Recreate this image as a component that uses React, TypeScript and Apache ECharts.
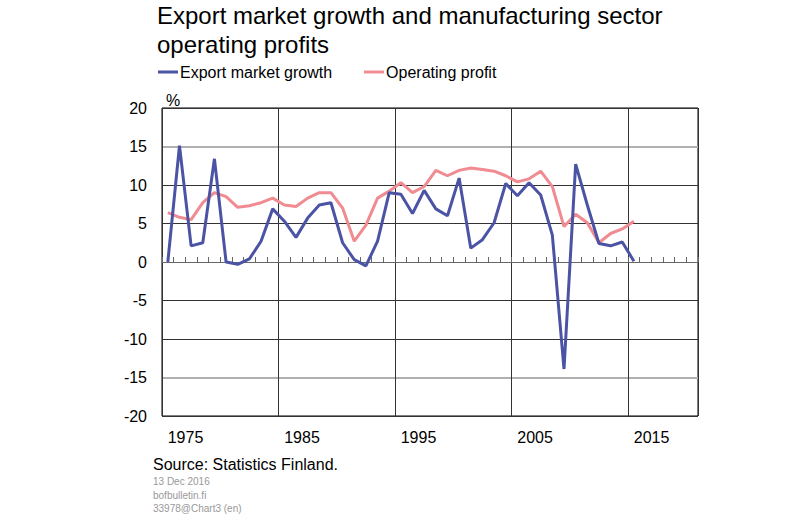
import React, { useEffect, useRef } from "react";
import * as echarts from "echarts";

const years: string[] = [];
for (let y = 1975; y <= 2020; y++) years.push(String(y));

const exportGrowth = [
  0.0, 15.1, 2.1, 2.5, 13.4, 0.0, -0.3, 0.4, 2.7, 6.9,
  5.3, 3.2, 5.7, 7.4, 7.7, 2.5, 0.3, -0.5, 2.7, 9.0,
  8.8, 6.3, 9.3, 6.9, 6.0, 10.9, 1.8, 2.9, 5.1, 10.2,
  8.6, 10.3, 8.7, 3.5, -13.9, 12.7, 7.4, 2.4, 2.1, 2.6,
  0.1,
];

const operatingProfit = [
  6.4, 5.8, 5.5, 7.7, 9.0, 8.5, 7.1, 7.3, 7.7, 8.3,
  7.4, 7.2, 8.3, 9.0, 9.0, 7.0, 2.7, 4.8, 8.3, 9.2,
  10.3, 9.0, 9.8, 11.9, 11.2, 11.9, 12.2, 12.0, 11.8, 11.2,
  10.4, 10.8, 11.8, 9.8, 4.6, 6.2, 5.1, 2.5, 3.7, 4.3,
  5.3,
];

const xTickLabels = ["1975", "1985", "1995", "2005", "2015"];

const BLUE = "#4b53a4";
const PINK = "#f08b91";
const FONT = "Liberation Sans, Arial, sans-serif";

export default function App() {
  const ref = useRef<HTMLDivElement>(null);
  useEffect(() => {
    if (!ref.current) return;
    const chart = echarts.init(ref.current, undefined, { renderer: "svg" });
    const darkSplit = ["#333", "none", "#333", "#333", "#333", "#333", "#333", "none", "#333"];
    const graySplit = ["none", "#b0b0b0", "none", "none", "none", "none", "none", "#b0b0b0", "none"];
    chart.setOption({
      animation: false,
      backgroundColor: "#fff",
      textStyle: { fontFamily: FONT },
      title: [
        {
          text: "Export market growth and manufacturing sector\noperating profits",
          left: 157,
          top: 1,
          padding: 0,
          textStyle: { fontFamily: FONT, fontSize: 24, fontWeight: "normal", color: "#000", lineHeight: 29 },
        },
        {
          text: "Source: Statistics Finland.",
          left: 153,
          top: 456,
          padding: 0,
          textStyle: { fontFamily: FONT, fontSize: 16, fontWeight: "normal", color: "#000" },
        },
        {
          text: "13 Dec 2016\nbofbulletin.fi\n33978@Chart3 (en)",
          left: 153,
          top: 475,
          padding: 0,
          textStyle: { fontFamily: FONT, fontSize: 10, fontWeight: "normal", color: "#999", lineHeight: 13.5 },
        },
      ],
      legend: {
        left: 158,
        top: 64,
        padding: 0,
        itemWidth: 20,
        itemHeight: 3,
        itemGap: 32,
        icon: "rect",
        textStyle: { fontFamily: FONT, fontSize: 16, color: "#000", padding: [0, 0, 0, -3] },
        data: ["Export market growth", "Operating profit"],
      },
      grid: {
        left: 162,
        top: 108,
        width: 536,
        height: 308,
        show: true,
        borderColor: "#000",
        borderWidth: 1,
        backgroundColor: "transparent",
      },
      xAxis: [
        {
          type: "category",
          data: years,
          boundaryGap: true,
          axisLine: { show: true, onZero: true, lineStyle: { color: "#666", width: 1 } },
          axisTick: { show: true, inside: true, length: 5, interval: 0, lineStyle: { color: "#666" } },
          axisLabel: { show: false },
          splitLine: {
            show: true,
            interval: (i: number) => i % 10 === 0,
            lineStyle: { color: "#333", width: 1 },
          },
        },
        {
          type: "category",
          data: years,
          position: "bottom",
          boundaryGap: true,
          axisLine: { show: false, onZero: false },
          axisTick: { show: false },
          splitLine: { show: false },
          axisLabel: {
            show: true,
            interval: (i: number) => i % 10 === 1,
            formatter: (_v: string, i: number) => xTickLabels[(i - 1) / 10] ?? "",
            fontFamily: FONT,
            fontSize: 16,
            color: "#000",
            margin: 13,
            padding: [0, 0, 0, 12],
          },
        },
      ],
      yAxis: [
        {
          type: "value",
          min: -20,
          max: 20,
          interval: 5,
          name: "%",
          nameLocation: "end",
          nameGap: 0,
          nameTextStyle: { fontFamily: FONT, fontSize: 16, color: "#000", align: "left", padding: [0, 0, 0, 4] },
          axisLine: { show: false },
          axisTick: { show: false },
          axisLabel: { fontFamily: FONT, fontSize: 16, color: "#000", margin: 15 },
          splitLine: { show: true, lineStyle: { color: darkSplit, width: 1 } },
        },
        {
          type: "value",
          min: -20,
          max: 20,
          interval: 5,
          position: "left",
          axisLine: { show: false },
          axisTick: { show: false },
          axisLabel: { show: false },
          splitLine: { show: true, lineStyle: { color: graySplit, width: 2 } },
        },
      ],
      series: [
        {
          name: "Export market growth",
          type: "line",
          data: exportGrowth,
          xAxisIndex: 0,
          yAxisIndex: 0,
          symbol: "none",
          lineStyle: { color: BLUE, width: 3 },
          itemStyle: { color: BLUE },
          z: 3,
        },
        {
          name: "Operating profit",
          type: "line",
          data: operatingProfit,
          xAxisIndex: 0,
          yAxisIndex: 0,
          symbol: "none",
          lineStyle: { color: PINK, width: 3 },
          itemStyle: { color: PINK },
          z: 2,
        },
      ],
    });
    return () => chart.dispose();
  }, []);
  return (
    <div
      ref={ref}
      style={{ position: "fixed", left: 0, top: 0, width: 800, height: 522 }}
    />
  );
}
